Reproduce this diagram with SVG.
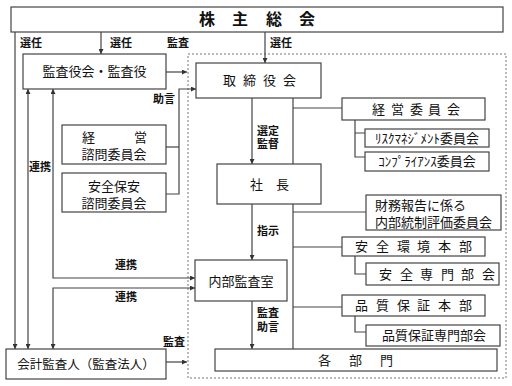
<svg xmlns="http://www.w3.org/2000/svg" width="512" height="386" viewBox="0 0 512 386">
<defs>
<style>
.b{fill:#fff;stroke:#444;stroke-width:1.2}
.t{font-family:"Noto Sans CJK JP","Noto Sans CJK SC",sans-serif;font-size:13px;fill:#111}
.m{text-anchor:middle}
.l{font-family:"Noto Sans CJK JP","Noto Sans CJK SC",sans-serif;font-size:11px;font-weight:bold;fill:#111}
.c{fill:none;stroke:#444;stroke-width:1.2}
</style>
<marker id="a" viewBox="0 0 6 6" refX="6" refY="3" markerWidth="5" markerHeight="5" orient="auto-start-reverse" markerUnits="userSpaceOnUse">
<path d="M0,0 L6,3 L0,6 z" fill="#333"/>
</marker>
</defs>
<rect width="512" height="386" fill="#fff"/>
<rect x="188" y="54" width="318" height="324" fill="none" stroke="#777" stroke-width="1" stroke-dasharray="2,2"/>
<g id="connectors">
<path class="c" d="M15,32 V349" marker-end="url(#a)"/>
<path class="c" d="M28,89 V349" marker-start="url(#a)" marker-end="url(#a)"/>
<path class="c" d="M53,89 V278 H195" marker-start="url(#a)" marker-end="url(#a)"/>
<path class="c" d="M195,288 H53 V349" marker-start="url(#a)" marker-end="url(#a)"/>
<path class="c" d="M101,32 V54" marker-end="url(#a)"/>
<path class="c" d="M265,32 V63" marker-end="url(#a)"/>
<path class="c" d="M166,72 H187" marker-end="url(#a)"/>
<path class="c" d="M166,147 H179"/>
<path class="c" d="M166,194 H179 V89 H196" marker-end="url(#a)"/>
<path class="c" d="M166,362 H187" marker-end="url(#a)"/>
<path class="c" d="M252,98 V164" marker-end="url(#a)"/>
<path class="c" d="M252,204 V260" marker-end="url(#a)"/>
<path class="c" d="M252,301 V349" marker-end="url(#a)"/>
<path class="c" d="M293,98 V349"/>
<path class="c" d="M293,108 H342 M293,212 H366 M293,247 H342 M293,307 H342"/>
<path class="c" d="M355,120 V157 H365 M355,133 H365"/>
<path class="c" d="M355,256 V274 H366"/>
<path class="c" d="M355,316 V332 H366"/>
<text class="l" x="20" y="47">選任</text>
<text class="l" x="110" y="47">選任</text>
<text class="l" x="167" y="47">監査</text>
<text class="l" x="270" y="47">選任</text>
<text class="l" x="153" y="103">助言</text>
<text class="l" x="29" y="171">連携</text>
<text class="l" x="257" y="135">選定</text>
<text class="l" x="257" y="148">監督</text>
<text class="l" x="257" y="235">指示</text>
<text class="l" x="257" y="317">監査</text>
<text class="l" x="257" y="331">助言</text>
<text class="l" x="115" y="269">連携</text>
<text class="l" x="115" y="301">連携</text>
<text class="l" x="163" y="346">監査</text>
</g>
<g id="shareholders">
<rect class="b" x="11" y="7" width="492" height="25"/>
<text class="t" style="font-size:16px;font-weight:bold" x="199 232 266 299" y="25">株主総会</text>
</g>
<g id="auditors">
<rect class="b" x="23" y="54" width="143" height="35"/>
<text class="t m" x="94.5" y="76">監査役会・監査役</text>
</g>
<g id="board">
<rect class="b" x="196" y="63" width="125" height="35"/>
<text class="t" x="223 243 263 283" y="85">取締役会</text>
</g>
<g id="mgmt-advisory">
<rect class="b" x="62" y="125" width="104" height="39"/>
<text class="t" x="82 134" y="142">経営</text>
<text class="t m" x="114" y="159">諮問委員会</text>
</g>
<g id="safety-advisory">
<rect class="b" x="62" y="173" width="104" height="39"/>
<text class="t m" x="114" y="191">安全保安</text>
<text class="t m" x="114" y="208">諮問委員会</text>
</g>
<g id="president">
<rect class="b" x="217" y="164" width="104" height="40"/>
<text class="t" x="250 276" y="189">社長</text>
</g>
<g id="internal-audit">
<rect class="b" x="195" y="260" width="92" height="41"/>
<text class="t m" x="241" y="286">内部監査室</text>
</g>
<g id="departments">
<rect class="b" x="215" y="349" width="282" height="22"/>
<text class="t" x="318 349 380" y="365">各部門</text>
</g>
<g id="accounting-auditor">
<rect class="b" x="6" y="349" width="160" height="30"/>
<text class="t m" style="font-size:12.5px" x="86" y="369">会計監査人（監査法人）</text>
</g>
<g id="mgmt-committee">
<rect class="b" x="342" y="98" width="143" height="22"/>
<text class="t" x="372 391 410 428 447" y="114">経営委員会</text>
</g>
<g id="risk-committee">
<rect class="b" x="365" y="129" width="124" height="18"/>
<text class="t m" x="427" y="143">ﾘｽｸﾏﾈｼﾞﾒﾝﾄ委員会</text>
</g>
<g id="compliance-committee">
<rect class="b" x="365" y="152" width="124" height="19"/>
<text class="t m" x="427" y="166">ｺﾝﾌﾟﾗｲｱﾝｽ委員会</text>
</g>
<g id="icfr-committee">
<rect class="b" x="366" y="195" width="135" height="35"/>
<text class="t" x="375" y="210">財務報告に係る</text>
<text class="t" x="375" y="227">内部統制評価委員会</text>
</g>
<g id="safety-env">
<rect class="b" x="342" y="237" width="143" height="19"/>
<text class="t" x="355 376 397 417 438 459" y="251">安全環境本部</text>
</g>
<g id="safety-sub">
<rect class="b" x="366" y="263" width="133" height="22"/>
<text class="t" x="379 400 420 441 461 482" y="279">安全専門部会</text>
</g>
<g id="quality">
<rect class="b" x="342" y="295" width="143" height="21"/>
<text class="t" x="355 376 397 417 438 459" y="310">品質保証本部</text>
</g>
<g id="quality-sub">
<rect class="b" x="366" y="325" width="134" height="21"/>
<text class="t m" x="434" y="340">品質保証専門部会</text>
</g>
</svg>
